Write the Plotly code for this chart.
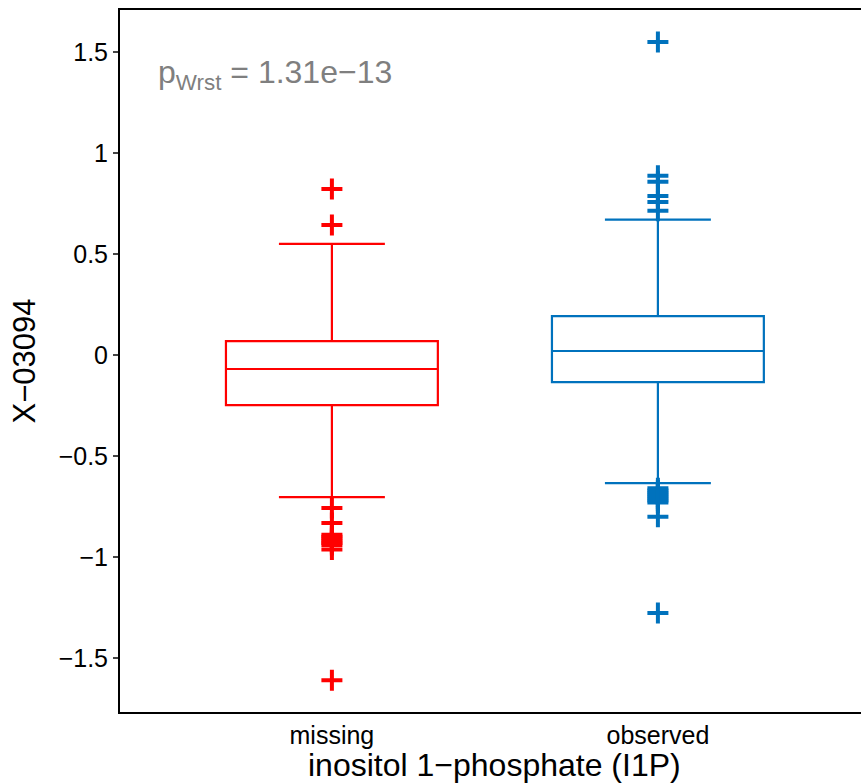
import plotly.graph_objects as go

categories = ["missing", "observed"]
cat_pos = [1, 2]
colors = ["#ff0000", "#0072bd"]

q1 = [-0.248, -0.134]
median = [-0.069, 0.020]
q3 = [0.069, 0.193]
lower_whisker = [-0.703, -0.634]
upper_whisker = [0.550, 0.670]

outliers_missing = [0.822, 0.644, -0.757, -0.832, -0.89, -0.90, -0.91, -0.92, -0.93, -0.94, -0.962, -1.61]
outliers_observed = [1.55, 0.888, 0.858, 0.787, 0.757, 0.714, -0.66, -0.67, -0.68, -0.69, -0.70, -0.71, -0.72, -0.73, -0.80, -1.277]
outliers = [outliers_missing, outliers_observed]

yticks = [-1.5, -1, -0.5, 0, 0.5, 1, 1.5]
yticklabels = ["\u22121.5", "\u22121", "\u22120.5", "0", "0.5", "1", "1.5"]

font = "Liberation Sans, Arial, sans-serif"

fig = go.Figure()
for i in range(2):
    fig.add_trace(go.Box(
        x=[cat_pos[i]], q1=[q1[i]], median=[median[i]], q3=[q3[i]],
        lowerfence=[lower_whisker[i]], upperfence=[upper_whisker[i]],
        width=0.65, whiskerwidth=0.5, boxpoints=False,
        line=dict(color=colors[i], width=2.2),
        fillcolor="rgba(0,0,0,0)", showlegend=False, hoverinfo="skip",
    ))
    fig.add_trace(go.Scatter(
        x=[cat_pos[i]] * len(outliers[i]), y=outliers[i], mode="markers",
        marker=dict(symbol="cross-thin", size=15, color=colors[i],
                    line=dict(color=colors[i], width=4)),
        showlegend=False, hoverinfo="skip",
    ))

fig.add_annotation(
    x=0.46, y=1.39, xref="x", yref="y", xanchor="left", yanchor="middle",
    text="p<sub>Wrst</sub> = 1.31e\u221213", showarrow=False,
    font=dict(family=font, size=32, color="#7f7f7f"),
)

fig.add_annotation(
    x=1.5, y=-0.076, xref="x", yref="paper", xanchor="center", yanchor="middle",
    text="inositol 1\u2212phosphate (I1P)", showarrow=False,
    font=dict(family=font, size=32, color="black"),
)

fig.update_layout(
    width=861, height=783,
    margin=dict(l=120, r=0, t=10, b=71),
    plot_bgcolor="white", paper_bgcolor="white",
    font=dict(family=font, size=25, color="black"),
    xaxis=dict(
        range=[0.35, 0.35 + 741 / 326], tickvals=cat_pos, ticktext=categories,
        showgrid=False, zeroline=False, showline=True, mirror=True,
        linecolor="black", linewidth=2, ticks="",
        tickfont=dict(size=25),
    ),
    yaxis=dict(
        range=[-1.767, 1.708], tickvals=yticks, ticktext=yticklabels,
        showgrid=False, zeroline=False, showline=True, mirror=False,
        linecolor="black", linewidth=2, ticks="outside", ticklen=5, tickwidth=1.5,
        tickfont=dict(size=25),
        title=dict(text="X\u221203094", font=dict(size=31), standoff=14),
    ),
)

fig.write_html("out.html", config={"displayModeBar": False},
               post_script="document.body.style.margin='0px';document.body.style.overflow='hidden';")
